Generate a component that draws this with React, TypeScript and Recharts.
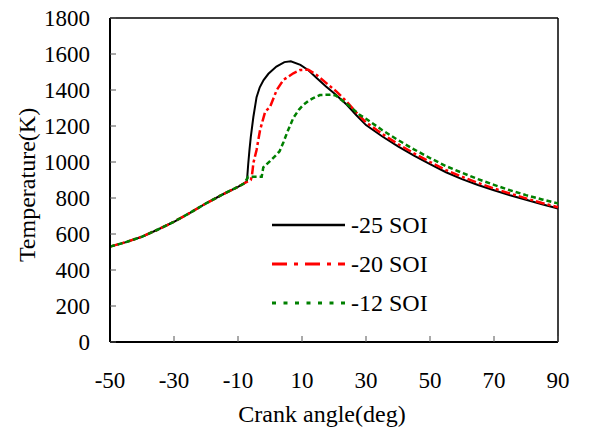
import React from "react";
import { LineChart, Line, XAxis, YAxis, ReferenceLine, Legend, Label } from "recharts";

// crank angle (deg) / temperature (K)
const angleSoi25 = [-50, -45, -40, -35, -30, -25, -20, -15, -10, -8, -7.2, -6.8, -6.4, -6, -5.2, -4.2, -3.2, -2, -0.5, 2, 4.5, 6.5, 9.5, 12, 14.5, 17.5, 20.5, 24, 27, 30, 35, 40, 45, 50, 55, 60, 65, 70, 75, 80, 85, 90];
const tempSoi25 = [530, 555, 585, 625, 668, 718, 770, 818, 862, 882, 895, 990, 1070, 1140, 1250, 1360, 1415, 1455, 1490, 1530, 1555, 1560, 1540, 1510, 1468, 1420, 1375, 1318, 1260, 1205, 1143, 1087, 1035, 988, 943, 905, 872, 843, 815, 790, 765, 742];

const angleSoi20 = [-50, -45, -40, -35, -30, -25, -20, -15, -10, -8, -6, -5.7, -5.4, -5.2, -4.2, -3.1, -1.5, 0, 1, 2.1, 4.2, 7.3, 9.4, 12, 14.6, 17.7, 20.8, 24, 27, 30, 35, 40, 45, 50, 55, 60, 65, 70, 75, 80, 85, 90];
const tempSoi20 = [530, 555, 585, 625, 668, 718, 770, 818, 862, 882, 900, 918, 960, 994, 1067, 1178, 1280, 1305, 1350, 1400, 1456, 1493, 1511, 1513, 1483, 1437, 1391, 1335, 1275, 1220, 1157, 1100, 1048, 1000, 955, 918, 884, 853, 825, 798, 772, 749];

const angleSoi12 = [-50, -45, -40, -35, -30, -25, -20, -15, -10, -8, -6.8, -2.6, -2.1, 0, 2, 3, 4.2, 5.5, 7.3, 9, 10.4, 12, 13.5, 15.6, 19.3, 20.5, 22.4, 24, 26, 28, 30, 35, 40, 45, 50, 55, 60, 65, 70, 75, 80, 85, 90];
const tempSoi12 = [530, 555, 585, 625, 668, 718, 770, 818, 862, 882, 918, 918, 970, 1005, 1040, 1060, 1110, 1170, 1245, 1290, 1317, 1340, 1355, 1372, 1374, 1370, 1344, 1322, 1293, 1262, 1240, 1178, 1122, 1070, 1022, 977, 940, 905, 873, 843, 816, 792, 770];

const xTicks = [-50, -30, -10, 10, 30, 50, 70, 90];
const yTicks = [0, 200, 400, 600, 800, 1000, 1200, 1400, 1600, 1800];

const toRows = (xs: number[], ys: number[]) => xs.map((x, i) => ({ x, t: ys[i] }));

const series = [
  { name: "-25 SOI", data: toRows(angleSoi25, tempSoi25), color: "#000000", width: 2, dash: undefined, legendDash: undefined },
  { name: "-20 SOI", data: toRows(angleSoi20, tempSoi20), color: "#ff0000", width: 2.5, dash: "9 3 3 3", legendDash: "15 7 4 7" },
  { name: "-12 SOI", data: toRows(angleSoi12, tempSoi12), color: "#008000", width: 2.5, dash: "5 3", legendDash: "4 7.5" },
];

const FONT = "'Liberation Serif', 'Times New Roman', serif";

function LegendBox() {
  return (
    <svg width={200} height={120}>
      {series.map((s, i) => {
        const y = 20 + i * 39;
        return (
          <g key={s.name}>
            <line x1={7} x2={80} y1={y} y2={y} stroke={s.color} strokeWidth={s.width + 0.5} strokeDasharray={s.legendDash} />
            <text x={86} y={y} dominantBaseline="central" fontSize={24} fontFamily={FONT} fill="#000">
              {s.name}
            </text>
          </g>
        );
      })}
    </svg>
  );
}

export default function App() {
  const tickStyle = { fill: "#000", fontSize: 23, fontFamily: FONT };
  return (
    <div style={{ position: "absolute", left: 0, top: 0, width: 590, height: 437, background: "#fff" }}>
      <LineChart width={590} height={437} margin={{ top: 18, right: 32, bottom: 35, left: 0 }}>
        <XAxis
          type="number"
          dataKey="x"
          domain={[-50, 90]}
          ticks={xTicks}
          height={60}
          tickSize={-6}
          tickMargin={36}
          tick={tickStyle}
          axisLine={{ stroke: "#000", strokeWidth: 2 }}
          tickLine={{ stroke: "#555", strokeWidth: 1 }}
        >
          <Label
            content={() => (
              <text x={322} y={414} textAnchor="middle" dominantBaseline="central" fontSize={24} fontFamily={FONT} fill="#000">
                Crank angle(deg)
              </text>
            )}
          />
        </XAxis>
        <YAxis
          type="number"
          domain={[0, 1800]}
          ticks={yTicks}
          width={110}
          tickSize={-6}
          tickMargin={26}
          tick={tickStyle}
          axisLine={{ stroke: "#000", strokeWidth: 2 }}
          tickLine={{ stroke: "#555", strokeWidth: 1 }}
        >
          <Label
            content={() => (
              <text
                x={27}
                y={185}
                transform="rotate(-90, 27, 185)"
                textAnchor="middle"
                dominantBaseline="central"
                fontSize={24}
                fontFamily={FONT}
                fill="#000"
              >
                Temperature(K)
              </text>
            )}
          />
        </YAxis>
        <ReferenceLine y={1800} stroke="#000" strokeWidth={1.5} />
        <ReferenceLine x={90} stroke="#000" strokeWidth={1.5} />
        {series.map((s) => (
          <Line
            key={s.name}
            name={s.name}
            data={s.data}
            dataKey="t"
            type="linear"
            stroke={s.color}
            strokeWidth={s.width}
            strokeDasharray={s.dash}
            dot={false}
            isAnimationActive={false}
          />
        ))}
        <Legend
          layout="vertical"
          align="center"
          verticalAlign="middle"
          content={() => <LegendBox />}
          wrapperStyle={{ left: 265, top: 205, width: 200, height: 120 }}
        />
      </LineChart>
    </div>
  );
}
